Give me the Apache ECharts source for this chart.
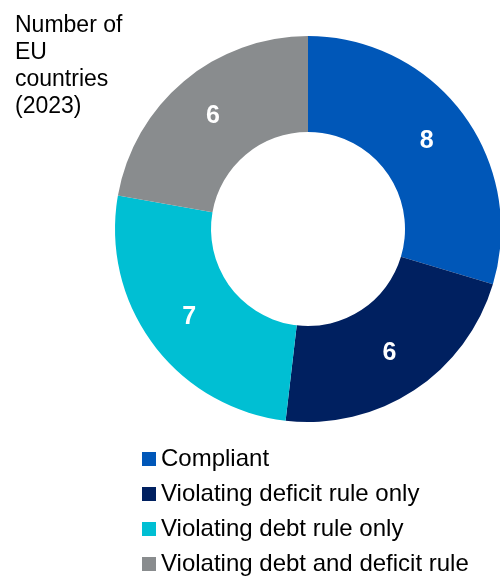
<!DOCTYPE html>
<html>
<head>
<meta charset="utf-8">
<style>
  html, body { margin: 0; padding: 0; background: #ffffff; }
  #chart { width: 500px; height: 576px; }
</style>
<script src="https://cdn.jsdelivr.net/npm/echarts@6/dist/echarts.min.js"></script>
</head>
<body>
<div id="chart"></div>
<script>
// Fiscal rule compliance of EU member states, 2023
const categories = [
  'Compliant',
  'Violating deficit rule only',
  'Violating debt rule only',
  'Violating debt and deficit rule'
];
const countryCounts = [8, 6, 7, 6];
const sliceColors = ['#0057b8', '#002060', '#00bfd3', '#898c8e'];

const chart = echarts.init(document.getElementById('chart'), null, { renderer: 'canvas' });

const fontFamily = '"Liberation Sans", Arial, Helvetica, sans-serif';

chart.setOption({
  animation: false,
  backgroundColor: '#ffffff',
  color: sliceColors,
  title: {
    text: 'Number of\nEU\ncountries\n(2023)',
    left: 15,
    top: 12,
    padding: 0,
    textStyle: {
      fontFamily: fontFamily,
      fontSize: 23,
      fontWeight: 'normal',
      color: '#000000',
      lineHeight: 27
    }
  },
  legend: {
    orient: 'vertical',
    left: 142,
    top: 447,
    padding: 0,
    itemGap: 11,
    itemWidth: 14,
    itemHeight: 14,
    icon: 'rect',
    selectedMode: false,
    data: categories,
    textStyle: {
      fontFamily: fontFamily,
      fontSize: 24,
      color: '#000000',
      lineHeight: 24
    }
  },
  series: [{
    type: 'pie',
    center: [308, 229],
    radius: [97, 193],
    startAngle: 90,
    clockwise: true,
    avoidLabelOverlap: false,
    emphasis: { disabled: true },
    label: {
      show: true,
      position: 'inside',
      formatter: '{c}',
      color: '#ffffff',
      fontFamily: fontFamily,
      fontSize: 25,
      fontWeight: 'bold'
    },
    labelLine: { show: false },
    itemStyle: { borderWidth: 0 },
    data: categories.map((name, i) => ({ name: name, value: countryCounts[i] }))
  }]
});
</script>
</body>
</html>
